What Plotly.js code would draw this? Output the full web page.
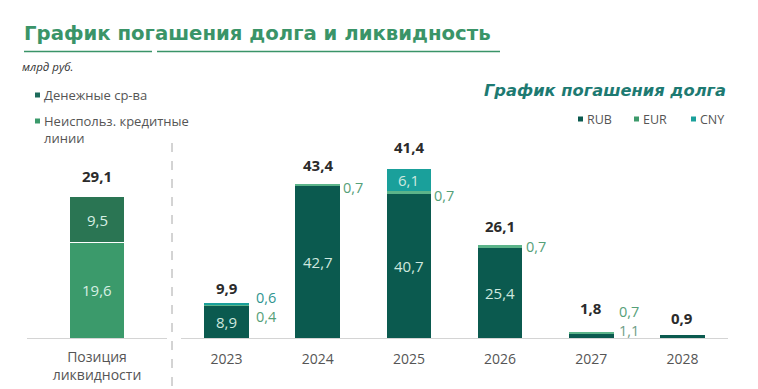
<!DOCTYPE html>
<html><head><meta charset="utf-8">
<script src="https://cdn.plot.ly/plotly-3.0.1.min.js"></script>
<style>html,body{margin:0;padding:0;background:#fff}#chart{width:758px;height:389px}</style>
</head><body><div id="chart"></div>
<script>
// ---- data ----
const liqCategory = ['Позиция<br>ликвидности'];
const liqCredit = [19.6];   // Неиспольз. кредитные линии
const liqCash = [9.5];      // Денежные ср-ва
const liqTotal = [29.1];
const years = ['2023', '2024', '2025', '2026', '2027', '2028'];
const rub = [8.9, 42.7, 40.7, 25.4, 1.1, 0.9];
const eur = [0.4, 0.7, 0.7, 0.7, 0.7, null];
const cny = [0.6, null, 6.1, null, null, null];
const debtTotal = [9.9, 43.4, 41.4, 26.1, 1.8, 0.9];

// ---- styling ----
const W = 758, H = 389;
const px = x => x / W, py = y => 1 - y / H;
const FONT = 'Open Sans';
const HFONT = 'DejaVu Sans';
const C = {
  rub: '#0b5a4f', eur: '#5cb48a', cny: '#1aa09b',
  cash: '#2a7553', credit: '#3b9a6b', eurLegend: '#3d9a6b',
  title: '#3a9468', sub: '#1d7a72', gray: '#555555', axis: '#d4d4d4'
};
const fmt = v => v.toFixed(1).replace('.', ',');
const halfW = 0.245;

const traces = [
  {type: 'bar', x: liqCategory, y: liqCredit, xaxis: 'x', yaxis: 'y', width: 0.39,
   marker: {color: C.credit, line: {color: '#fff', width: 1}}, hoverinfo: 'skip'},
  {type: 'bar', x: liqCategory, y: liqCash, xaxis: 'x', yaxis: 'y', width: 0.39,
   marker: {color: C.cash, line: {color: '#fff', width: 1}}, hoverinfo: 'skip'},
  {type: 'bar', x: years, y: rub, xaxis: 'x2', yaxis: 'y2', width: 0.49,
   marker: {color: C.rub, line: {width: 0}}, hoverinfo: 'skip'},
  {type: 'bar', x: years, y: eur, xaxis: 'x2', yaxis: 'y2', width: 0.49,
   marker: {color: C.eur, line: {width: 0}}, hoverinfo: 'skip'},
  {type: 'bar', x: years, y: cny, xaxis: 'x2', yaxis: 'y2', width: 0.49,
   marker: {color: C.cny, line: {width: 0}}, hoverinfo: 'skip'}
];

const ann = [];
// liquidity labels
[[liqCredit, 0], [liqCash, liqCredit]].forEach(([arr, base], k) => {
  arr.forEach((v, i) => {
    const b = k === 0 ? 0 : base[i];
    ann.push({xref: 'x', yref: 'y', x: i, y: b + v / 2, text: fmt(v), showarrow: false,
      font: {family: FONT, size: 15, color: '#d6efe3'}});
  });
});
liqTotal.forEach((t, i) => {
  ann.push({xref: 'x', yref: 'y', x: i, y: liqCredit[i] + liqCash[i], yanchor: 'bottom', yshift: 9,
    text: '<b>' + fmt(t) + '</b>', showarrow: false, font: {family: FONT, size: 15, color: '#2b2b2b'}});
});

// debt labels
const series = [['rub', rub], ['eur', eur], ['cny', cny]];
const smallColor = {rub: '#6f9d86', eur: '#55a078', cny: '#2f9590'};
// pixel offsets for the outside label group of each column: [dx from bar edge, dy up from mean segment centre]
const smallPos = {0: [6, -2], 1: [2, -2], 2: [2, -3], 3: [3, 0], 4: [4, 13]};
const totalShift = [3, 7, 10, 7, 12, 5];
years.forEach((yr, i) => {
  let base = 0;
  const nSeg = series.filter(s => s[1][i] != null).length;
  const small = [];
  series.forEach(([name, arr]) => {
    const v = arr[i];
    if (v == null) return;
    const mid = base + v / 2;
    if (v >= 3) {
      ann.push({xref: 'x2', yref: 'y2', x: i, y: mid, text: fmt(v), showarrow: false,
        font: {family: FONT, size: 15, color: '#cfe8df'}});
    } else if (nSeg > 1) {
      small.push({name, v, mid});
    }
    base += v;
  });
  if (small.length) {
    const p = smallPos[i] || [3, 0];
    const midAvg = small.reduce((s, o) => s + o.mid, 0) / small.length;
    const text = small.slice().reverse()
      .map(o => `<span style="color:${smallColor[o.name]}">${fmt(o.v)}</span>`).join('<br>');
    ann.push({xref: 'x2', yref: 'y2', x: i + halfW, y: midAvg, xanchor: 'left', yanchor: 'middle',
      xshift: p[0], yshift: p[1], align: 'center', text, showarrow: false, borderpad: 0,
      font: {family: FONT, size: 14.5, color: smallColor.eur}});
  }
  ann.push({xref: 'x2', yref: 'y2', x: i, y: base, yanchor: 'bottom', yshift: totalShift[i],
    text: '<b>' + fmt(debtTotal[i]) + '</b>', showarrow: false, font: {family: FONT, size: 15, color: '#2b2b2b'}});
});

// header texts
const paperText = (x, y, text, font, anchor) => ann.push({xref: 'paper', yref: 'paper', x: px(x), y: py(y),
  xanchor: anchor || 'left', yanchor: 'middle', text, showarrow: false, font, align: 'left'});
paperText(22, 34, '<b>График погашения долга и ликвидность</b>', {family: HFONT, size: 19.7, color: C.title});
paperText(20, 66, '<i>млрд руб.</i>', {family: FONT, size: 11.5, color: '#333'});
paperText(42, 95, 'Денежные ср-ва', {family: FONT, size: 13, color: C.gray});
paperText(42, 129, 'Неиспольз. кредитные<br>линии', {family: FONT, size: 13, color: C.gray});
paperText(728, 91, '<b><i>График погашения долга</i></b>', {family: HFONT, size: 16.3, color: C.sub}, 'right');
paperText(585, 119, 'RUB', {family: FONT, size: 12.5, color: C.gray});
paperText(641, 119, 'EUR', {family: FONT, size: 12.5, color: C.gray});
paperText(698, 119, 'CNY', {family: FONT, size: 12.5, color: C.gray});

const sq = (x, y, color) => ({type: 'rect', xref: 'paper', yref: 'paper', x0: px(x), x1: px(x + 5),
  y0: py(y + 2.5), y1: py(y - 2.5), fillcolor: color, line: {width: 0}});
const shapes = [
  sq(35, 95, '#1d6b5b'), sq(35, 121, C.credit),
  sq(578, 119, C.rub), sq(634, 119, C.eurLegend), sq(691, 119, C.cny),
  {type: 'line', xref: 'paper', yref: 'paper', x0: px(24), x1: px(152), y0: py(51.5), y1: py(51.5),
   line: {color: C.title, width: 1.5}},
  {type: 'line', xref: 'paper', yref: 'paper', x0: px(157), x1: px(500), y0: py(51.5), y1: py(51.5),
   line: {color: C.title, width: 1.5}},
  {type: 'line', xref: 'paper', yref: 'paper', x0: px(172), x1: px(172), y0: py(143), y1: py(386),
   line: {color: '#a8a8a8', width: 1, dash: 'dash'}}
];

const layout = {
  width: W, height: H, margin: {l: 0, r: 0, t: 0, b: 0},
  paper_bgcolor: '#fff', plot_bgcolor: 'rgba(0,0,0,0)',
  barmode: 'stack', showlegend: false, separators: ', ',
  font: {family: FONT, color: C.gray},
  xaxis: {domain: [px(27), px(167)], range: [-0.5, 0.5], type: 'category', showline: true, linecolor: C.axis,
    linewidth: 1, showgrid: false, zeroline: false, ticks: '', ticklabelstandoff: 6,
    tickfont: {family: FONT, size: 14, color: C.gray}},
  yaxis: {domain: [py(338), py(140)], range: [0, 40.8], visible: false, fixedrange: true},
  xaxis2: {domain: [px(181), px(728)], range: [-0.5, 5.5], type: 'category', anchor: 'y2', showline: true,
    linecolor: C.axis, linewidth: 1, showgrid: false, zeroline: false, ticks: '', ticklabelstandoff: 8,
    tickfont: {family: FONT, size: 14, color: C.gray}},
  yaxis2: {domain: [py(338), py(140)], range: [0, 55.8], visible: false, anchor: 'x2', fixedrange: true},
  annotations: ann, shapes: shapes
};

Plotly.newPlot('chart', traces, layout, {staticPlot: true, displayModeBar: false});
</script></body></html>
